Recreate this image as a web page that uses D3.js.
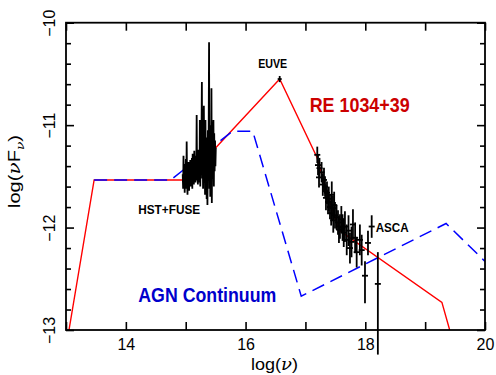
<!DOCTYPE html>
<html>
<head>
<meta charset="utf-8">
<script src="https://cdn.jsdelivr.net/npm/d3@7"></script>
<style>
  html, body { margin: 0; padding: 0; background: #fff; }
  svg { display: block; font-family: "Liberation Sans", Arial, Helvetica, sans-serif; }
</style>
</head>
<body>
<script>
// ---------------- DATA ----------------
const xTicks = [13, 14, 15, 16, 17, 18, 19, 20];
const xTickLabels = ["", "14", "", "16", "", "18", "", "20"];
const yTicks = [-13, -12.8, -12.6, -12.4, -12.2, -12, -11.8, -11.6, -11.4, -11.2, -11, -10.8, -10.6, -10.4, -10.2, -10];
const yMajor = [-13, -12, -11, -10];
const yTickLabels = ["\u221213", "\u221212", "\u221211", "\u221210"];

// Red model: RE 1034+39
const redNu   = [13.05, 13.47, 15.00, 16.57, 17.19, 17.32, 17.45, 17.57, 19.28, 19.41];
const redFlux = [-13.0, -11.535, -11.535, -10.55, -11.31, -11.58, -11.82, -12.03, -12.73, -13.0];

// Blue dashed: AGN continuum
const blueNu   = [13.47, 14.75, 15.78, 16.12, 16.93, 19.35, 20.0];
const blueFlux = [-11.535, -11.535, -11.06, -11.06, -12.67, -11.96, -12.33];

// HST+FUSE spectrum
const hstNu = [14.950,14.957,14.963,14.970,14.977,14.983,14.990,14.997,15.003,15.010,15.016,15.023,15.030,15.036,15.043,15.050,15.056,15.063,15.070,15.076,15.083,15.090,15.096,15.103,15.110,15.116,15.123,15.130,15.136,15.143,15.150,15.156,15.163,15.170,15.176,15.183,15.190,15.196,15.203,15.210,15.216,15.223,15.230,15.236,15.243,15.250,15.256,15.263,15.270,15.276,15.283,15.290,15.296,15.303,15.310,15.316,15.323,15.330,15.336,15.343,15.350,15.356,15.363,15.370,15.376,15.383,15.390,15.396,15.403,15.410,15.416,15.423,15.430,15.436,15.443,15.450,15.456,15.463,15.470,15.476,15.483,15.490,15.496,15.503];
const hstFlux = [-11.48,-11.62,-11.30,-11.56,-11.38,-11.66,-11.42,-11.58,-11.33,-11.62,-11.16,-11.55,-11.68,-11.40,-11.60,-11.36,-11.64,-11.42,-11.57,-11.34,-11.60,-11.40,-11.55,-11.32,-11.62,-11.28,-11.50,-11.38,-11.58,-11.25,-11.52,-11.35,-11.56,-11.30,-11.50,-10.90,-11.54,-11.28,-11.58,-11.24,-11.50,-11.30,-11.56,-10.95,-11.60,-11.25,-11.48,-11.15,-10.58,-11.52,-11.20,-11.62,-11.10,-10.81,-11.50,-11.18,-11.68,-10.95,-11.55,-11.12,-11.72,-11.25,-11.78,-11.05,-11.48,-11.15,-10.19,-11.62,-11.00,-11.70,-11.10,-11.58,-10.64,-11.76,-11.05,-11.52,-11.12,-10.95,-11.60,-11.08,-11.45,-11.15,-11.40,-11.22];

// X-ray (ROSAT/ASCA) points with error bars
const xrNu    = [17.198,17.210,17.227,17.235,17.270,17.290,17.310,17.327,17.343,17.360,17.377,17.390,17.410,17.430,17.440,17.460,17.465,17.480,17.494,17.520,17.544,17.560,17.577,17.600,17.620,17.640,17.660,17.690,17.720,17.744,17.770,17.794,17.830,17.856,17.910,17.940,17.995,18.045,18.107,18.210];
const xrFlux  = [-11.29,-11.39,-11.51,-11.42,-11.46,-11.58,-11.535,-11.60,-11.71,-11.66,-11.75,-11.72,-11.80,-11.86,-11.68,-11.81,-11.93,-11.78,-11.88,-11.90,-11.95,-12.02,-11.99,-11.92,-12.00,-12.05,-11.99,-12.12,-12.03,-12.20,-12.14,-11.97,-12.10,-12.24,-12.12,-12.22,-12.47,-12.15,-11.99,-12.55];
const xrErrHi = [0.08,0.10,0.10,0.10,0.10,0.11,0.12,0.10,0.12,0.11,0.12,0.12,0.12,0.12,0.13,0.12,0.12,0.13,0.13,0.12,0.12,0.13,0.12,0.13,0.13,0.14,0.15,0.15,0.15,0.15,0.15,0.15,0.15,0.15,0.15,0.15,0.14,0.12,0.11,0.31];
const xrErrLo = [0.08,0.10,0.10,0.10,0.10,0.11,0.12,0.10,0.12,0.11,0.12,0.12,0.12,0.12,0.13,0.12,0.12,0.13,0.13,0.12,0.12,0.13,0.12,0.13,0.13,0.14,0.15,0.15,0.15,0.15,0.15,0.15,0.15,0.15,0.15,0.15,0.27,0.12,0.11,0.69];

// EUVE point
const euveNu = [16.57];
const euveFlux = [-10.55];
const euveErr = [0.03];

// ---------------- CHART ----------------
const W = 496, H = 375;
const m = { left: 66, right: 11, top: 22.7, bottom: 45 };
const svg = d3.select("body").append("svg").attr("width", W).attr("height", H);

const x = d3.scaleLinear().domain([13, 20]).range([m.left, W - m.right]);
const y = d3.scaleLinear().domain([-13, -10]).range([H - m.bottom, m.top]);

svg.append("defs").append("clipPath").attr("id", "plot")
  .append("rect").attr("x", m.left).attr("y", m.top)
  .attr("width", x(20) - x(13)).attr("height", y(-13) - y(-10));

const line = d3.line().x(d => x(d[0])).y(d => y(d[1]));
const gPlot = svg.append("g").attr("clip-path", "url(#plot)");

// red model
gPlot.append("path").datum(redNu.map((v, i) => [v, redFlux[i]]))
  .attr("d", line).attr("fill", "none").attr("stroke", "#ff0000").attr("stroke-width", 1.4);
// blue dashed continuum
gPlot.append("path").datum(blueNu.map((v, i) => [v, blueFlux[i]]))
  .attr("d", line).attr("fill", "none").attr("stroke", "#0000ff").attr("stroke-width", 1.5)
  .attr("stroke-dasharray", "13,7");
// HST spectrum
gPlot.append("path").datum(hstNu.map((v, i) => [v, hstFlux[i]]))
  .attr("d", line).attr("fill", "none").attr("stroke", "#000").attr("stroke-width", 1.8)
  .attr("stroke-linejoin", "miter");

// X-ray points
const gx = svg.append("g").attr("stroke", "#000").attr("stroke-width", 1.8);
xrNu.forEach((v, i) => {
  gx.append("line").attr("x1", x(v)).attr("x2", x(v))
    .attr("y1", y(xrFlux[i] + xrErrHi[i])).attr("y2", y(xrFlux[i] - xrErrLo[i]));
  gx.append("line").attr("x1", x(v) - 3).attr("x2", x(v) + 3)
    .attr("y1", y(xrFlux[i])).attr("y2", y(xrFlux[i]));
});
// EUVE point
euveNu.forEach((v, i) => {
  gx.append("line").attr("x1", x(v)).attr("x2", x(v))
    .attr("y1", y(euveFlux[i] + euveErr[i])).attr("y2", y(euveFlux[i] - euveErr[i]));
  gx.append("line").attr("x1", x(v) - 2).attr("x2", x(v) + 2)
    .attr("y1", y(euveFlux[i])).attr("y2", y(euveFlux[i]));
});

// ---------------- AXES ----------------
const fontAxis = 16;
function styleAxis(g) {
  g.select(".domain").remove();
  g.selectAll(".tick line").attr("stroke", "#000").attr("stroke-width", 1.6);
  g.selectAll("text").attr("font-size", fontAxis).attr("fill", "#000")
    .attr("font-family", "'Liberation Sans', Arial, sans-serif");
}
const isMajor = d => yMajor.some(v => Math.abs(v - d) < 1e-6);

// bottom
svg.append("g").attr("transform", `translate(0,${y(-13)})`)
  .call(d3.axisBottom(x).tickValues(xTicks).tickSizeInner(-8).tickSizeOuter(0).tickPadding(9)
    .tickFormat((d, i) => xTickLabels[i]))
  .call(styleAxis);
// top
svg.append("g").attr("transform", `translate(0,${y(-10)})`)
  .call(d3.axisTop(x).tickValues(xTicks).tickSizeInner(-8).tickSizeOuter(0).tickFormat(""))
  .call(styleAxis);
// left
const gL = svg.append("g").attr("transform", `translate(${x(13)},0)`)
  .call(d3.axisLeft(y).tickValues(yTicks).tickSizeInner(-5).tickSizeOuter(0)
    .tickFormat(d => { const k = yMajor.findIndex(v => Math.abs(v - d) < 1e-6); return k >= 0 ? yTickLabels[k] : ""; }))
  .call(styleAxis);
gL.selectAll(".tick").filter(isMajor).select("line").attr("x2", 8);
gL.selectAll(".tick text").attr("x", null).attr("dy", null)
  .attr("text-anchor", "middle").attr("transform", "translate(-11,0) rotate(-90)");
// right
const gR = svg.append("g").attr("transform", `translate(${x(20)},0)`)
  .call(d3.axisRight(y).tickValues(yTicks).tickSizeInner(-5).tickSizeOuter(0).tickFormat(""))
  .call(styleAxis);
gR.selectAll(".tick").filter(isMajor).select("line").attr("x2", -8);

// frame
svg.append("rect").attr("x", x(13)).attr("y", y(-10))
  .attr("width", x(20) - x(13)).attr("height", y(-13) - y(-10))
  .attr("fill", "none").attr("stroke", "#000").attr("stroke-width", 1.8);

// axis titles
const xt = svg.append("text").attr("x", (x(13) + x(20)) / 2 - 1).attr("y", 370)
  .attr("text-anchor", "middle").attr("font-size", 16).attr("fill", "#000")
  .attr("textLength", 47).attr("lengthAdjust", "spacingAndGlyphs");
xt.append("tspan").text("log(");
xt.append("tspan").attr("font-family", "'DejaVu Serif', serif").attr("font-style", "italic").text("\u03BD");
xt.append("tspan").text(")");

const yt = svg.append("text").attr("transform", "translate(19.5,171.5) rotate(-90)")
  .attr("text-anchor", "middle").attr("font-size", 16).attr("fill", "#000")
  .attr("textLength", 73).attr("lengthAdjust", "spacingAndGlyphs");
yt.append("tspan").text("log(");
yt.append("tspan").attr("font-family", "'DejaVu Serif', serif").attr("font-style", "italic").text("\u03BD");
yt.append("tspan").text("F");
yt.append("tspan").attr("font-family", "'DejaVu Serif', serif").attr("font-style", "italic")
  .attr("font-size", 11).attr("dy", 4).text("\u03BD");
yt.append("tspan").attr("dy", -4).text(")");

// annotations
function label(txt, cx, by, size, len, color) {
  svg.append("text").attr("x", cx).attr("y", by).attr("text-anchor", "middle")
    .attr("font-size", size).attr("font-weight", "bold").attr("fill", color)
    .attr("textLength", len).attr("lengthAdjust", "spacingAndGlyphs").text(txt);
}
label("EUVE", 272.7, 68.3, 12.5, 29, "#000");
label("HST+FUSE", 169.2, 214.3, 13, 62, "#000");
label("ASCA", 392.2, 231.7, 13.5, 33, "#000");
label("RE 1034+39", 359.7, 111.7, 21, 100, "#cc0000");
label("AGN Continuum", 207.3, 301.7, 20.5, 138, "#0000cc");
</script>
</body>
</html>
